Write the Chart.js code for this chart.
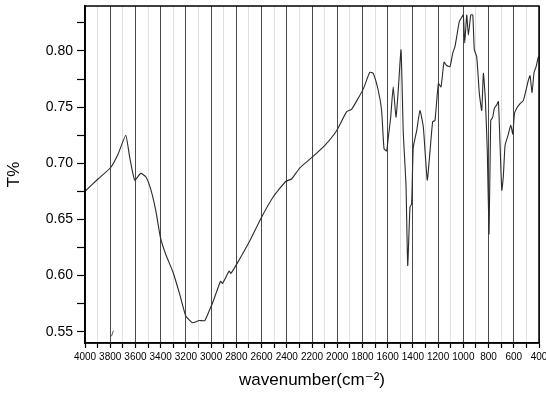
<!DOCTYPE html>
<html>
<head>
<meta charset="utf-8">
<script src="https://cdn.jsdelivr.net/npm/chart.js@4/dist/chart.umd.min.js"></script>
<style>
    html, body { margin: 0; padding: 0; background: #fff; }
    #wrap { width: 546px; height: 396px; position: relative; }
</style>
</head>
<body>
<div id="wrap"><canvas id="irChart"></canvas></div>
<script>
// Spectre IR : nombre d'onde (cm-1) et transmittance
const wavenumbers = [
    4000, 3897, 3798, 3738, 3677, 3645, 3606, 3558, 3518, 3479, 3439, 3402, 3360, 3302, 3248, 3201,
    3148, 3095, 3050, 3010, 2984, 2925, 2910, 2857, 2844, 2798, 2693, 2600, 2508, 2407, 2362, 2296,
    2203, 2098, 2005, 1925, 1886, 1794, 1742, 1714, 1675, 1648, 1629, 1608, 1595, 1576, 1556, 1534,
    1516, 1494, 1476, 1455, 1441, 1423, 1410, 1397, 1370, 1344, 1317, 1286, 1264, 1243, 1225, 1198,
    1177, 1153, 1132, 1106, 1084, 1066, 1032, 1013, 1000, 989, 973, 960, 941, 925, 913, 894,
    873, 854, 841, 825, 810, 796, 783, 767, 754, 735, 722, 709, 695, 683, 669, 643,
    624, 608, 595, 577, 550, 524, 503, 484, 471, 455, 439, 423, 405
];
const transmittance = [
    0.675, 0.686, 0.696, 0.708, 0.725, 0.705, 0.685, 0.691, 0.688, 0.677, 0.658, 0.634, 0.619, 0.603, 0.583, 0.564,
    0.558, 0.560, 0.560, 0.570, 0.577, 0.595, 0.593, 0.604, 0.602, 0.610, 0.631, 0.652, 0.670, 0.684, 0.686, 0.696,
    0.705, 0.716, 0.729, 0.746, 0.748, 0.766, 0.781, 0.780, 0.765, 0.747, 0.713, 0.711, 0.723, 0.741, 0.768, 0.741,
    0.765, 0.801, 0.726, 0.682, 0.609, 0.661, 0.664, 0.714, 0.729, 0.747, 0.732, 0.685, 0.711, 0.737, 0.738, 0.771,
    0.768, 0.790, 0.787, 0.786, 0.798, 0.804, 0.826, 0.830, 0.832, 0.807, 0.832, 0.814, 0.832, 0.832, 0.801, 0.795,
    0.762, 0.747, 0.780, 0.756, 0.711, 0.637, 0.738, 0.741, 0.749, 0.752, 0.755, 0.717, 0.676, 0.688, 0.716, 0.726,
    0.734, 0.726, 0.744, 0.749, 0.753, 0.756, 0.765, 0.774, 0.778, 0.763, 0.781, 0.786, 0.795
];
// petite marque parasite près de 3780
const markX = [3790, 3775];
const markY = [0.546, 0.551];

const xTicks = [4000, 3900, 3800, 3700, 3600, 3500, 3400, 3300, 3200, 3100, 3000, 2900, 2800, 2700, 2600, 2500,
    2400, 2300, 2200, 2100, 2000, 1900, 1800, 1700, 1600, 1500, 1400, 1300, 1200, 1100, 1000, 900, 800, 700, 600, 500, 400];
const yTicks = [0.55, 0.575, 0.60, 0.625, 0.65, 0.675, 0.70, 0.725, 0.75, 0.775, 0.80, 0.825];

const FONT = '"Liberation Sans", Arial, "DejaVu Sans", sans-serif';
const isMajorX = v => Math.round(v) % 200 === 0;
const isMajorY = v => Math.abs(Math.round(v * 20) - v * 20) < 1e-6;

// cadre autour de la zone de tracé
const frame = {
    id: 'frame',
    afterDraw(chart) {
        const { ctx, chartArea: a } = chart;
        ctx.save();
        ctx.strokeStyle = '#000';
        ctx.lineWidth = 1.5;
        ctx.strokeRect(a.left, a.top, a.right - a.left, a.bottom - a.top);
        ctx.restore();
    }
};

const ctx = document.getElementById('irChart').getContext('2d');
new Chart(ctx, {
    type: 'line',
    data: {
        datasets: [
            {
                data: wavenumbers.map((w, i) => ({ x: w, y: transmittance[i] })),
                borderColor: '#2a2a2a',
                borderWidth: 1.1,
                pointRadius: 0,
                tension: 0.15
            },
            {
                data: markX.map((w, i) => ({ x: w, y: markY[i] })),
                borderColor: '#555',
                borderWidth: 1,
                pointRadius: 0
            }
        ]
    },
    plugins: [frame],
    options: {
        responsive: true,
        maintainAspectRatio: false,
        animation: false,
        layout: { padding: { top: 6, right: 7, left: 0, bottom: 0 } },
        plugins: { legend: { display: false }, tooltip: { enabled: false } },
        scales: {
            x: {
                type: 'linear',
                reverse: true,
                min: 400,
                max: 4000,
                afterBuildTicks: s => { s.ticks = xTicks.map(v => ({ value: v })); },
                afterFit: s => { s.height = 53; s.paddingLeft = 0; s.paddingRight = 0; },
                ticks: {
                    autoSkip: false,
                    maxRotation: 0,
                    padding: 3,
                    color: '#000',
                    font: { family: FONT, size: 10 },
                    callback: v => isMajorX(v) ? String(v) : ''
                },
                grid: {
                    color: c => isMajorX(c.tick.value) ? '#4a4a4a' : '#e0e0e0',
                    lineWidth: 1,
                    tickColor: '#000',
                    tickLength: 5,
                    tickWidth: 1.2
                },
                border: { color: '#000', width: 1.5 },
                title: {
                    display: true,
                    text: 'wavenumber(cm\u207B\u00B2)',
                    color: '#000',
                    font: { family: FONT, size: 17 },
                    padding: { top: 0, bottom: 5 }
                }
            },
            y: {
                type: 'linear',
                min: 0.54,
                max: 0.84,
                afterBuildTicks: s => { s.ticks = yTicks.map(v => ({ value: v })); },
                afterFit: s => { s.width = 85; s.paddingTop = 0; s.paddingBottom = 0; },
                ticks: {
                    autoSkip: false,
                    padding: 4,
                    color: '#000',
                    font: { family: FONT, size: 14 },
                    callback: v => isMajorY(v) ? v.toFixed(2) : ''
                },
                grid: {
                    drawOnChartArea: false,
                    tickColor: '#000',
                    tickLength: 8,
                    tickWidth: 1.2
                },
                border: { color: '#000', width: 1.5 },
                title: {
                    display: true,
                    text: 'T%',
                    color: '#000',
                    font: { family: FONT, size: 17 },
                    padding: { top: 4, bottom: 0 }
                }
            }
        }
    }
});
</script>
</body>
</html>
